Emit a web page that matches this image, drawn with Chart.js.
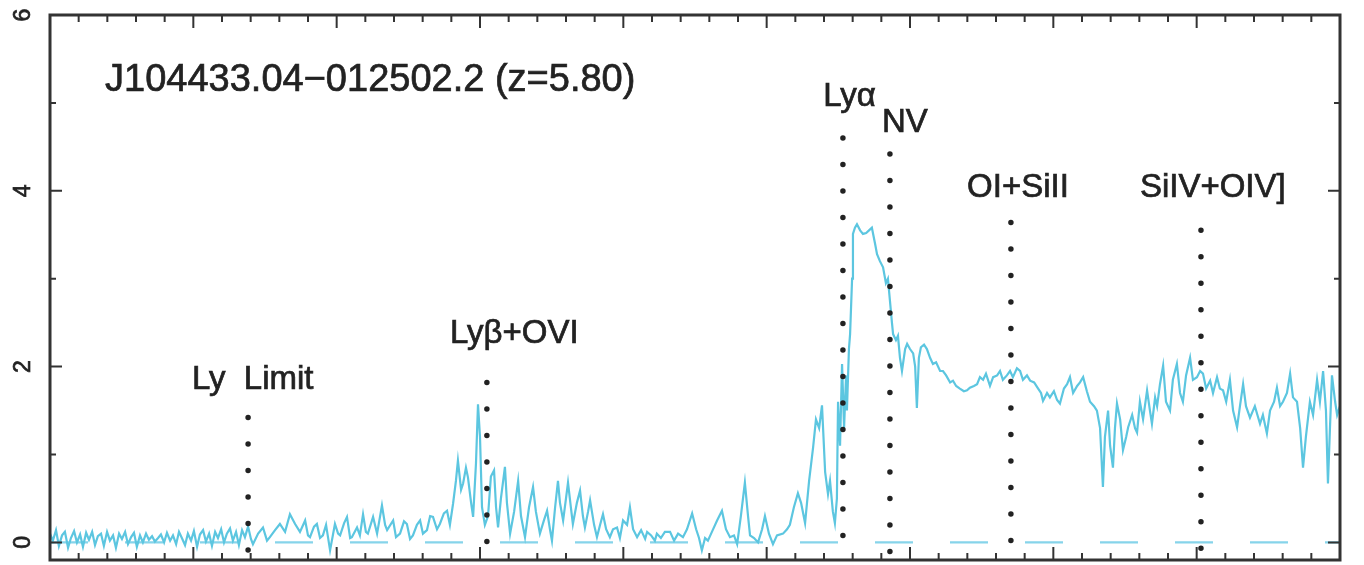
<!DOCTYPE html>
<html>
<head>
<meta charset="utf-8">
<script src="https://cdn.jsdelivr.net/npm/chart.js@4.4.1/dist/chart.umd.min.js"></script>
<style>
    html, body { margin: 0; padding: 0; background: #fff; }
    #wrap { width: 1364px; height: 565px; position: relative; }
</style>
</head>
<body>
<div id="wrap"><canvas id="spectrumChart"></canvas></div>
<script>
// Spectrum of J104433.04-012502.2, observed wavelength (A) vs flux, read off the plot
// blue side: below the Lyman limit and the Ly-beta region
const waveBlue = [
    5500,5510,5521,5531,5542,5552,5563,5573,5584,5594,
    5605,5615,5626,5636,5647,5657,5667,5678,5688,5699,
    5709,5720,5730,5741,5751,5762,5772,5783,5793,5803,
    5814,5824,5835,5845,5856,5866,5877,5887,5898,5908,
    5919,5929,5940,5950,5960,5971,5981,5992,6002,6013,
    6023,6034,6044,6055,6065,6076,6086,6097,6107,6117,
    6128,6138,6149,6159,6170,6180,6191,
    6201,6208,6226,6243,6257,6267,6285,6302,6320,6337,
    6355,6372,6390,6400,6407,6421,6431,6442,6452,6463,
    6477,6494,6505,6512,6526,6536,6547,6553,6571,6581,
    6592,6602,6609,6627,6641,6658,6669,6676,6697,6707,
    6721,6735,6745,6756,6766,6780,6791,6801,6815,6826,
    6836,6850,6860,6874,6885,6895,6906,6916,6923,6934,
    6941,6951,6958,6969,6976,6986,6993,7000,7007,7017
];
const fluxBlue = [
    0.10,0.02,0.14,-0.04,0.08,0.12,-0.06,0.05,0.13,0.00,
    0.09,-0.05,0.11,0.03,0.12,-0.03,0.07,0.10,-0.04,0.12,
    0.02,0.08,-0.06,0.10,0.04,0.12,-0.02,0.06,0.11,-0.05,
    0.08,0.00,0.10,0.03,0.07,0.01,0.05,0.09,0.00,0.11,
    0.02,0.08,-0.02,0.12,0.05,-0.03,0.10,0.02,0.13,-0.05,
    0.09,0.14,0.01,0.10,-0.04,0.12,0.05,0.15,0.00,0.10,
    0.16,0.02,0.12,-0.03,0.14,0.06,0.18,
    0.04,-0.02,0.10,0.17,0.02,0.06,0.14,0.21,0.12,0.32,
    0.21,0.12,0.25,0.08,0.06,0.18,0.21,0.05,0.08,0.20,
    -0.09,0.21,0.10,0.08,0.22,0.29,0.05,0.06,0.17,0.08,
    0.32,0.12,0.10,0.29,0.10,0.42,0.20,0.14,0.25,0.06,
    0.10,0.24,0.21,0.04,0.08,0.20,0.25,0.10,0.14,0.30,
    0.29,0.15,0.21,0.33,0.36,0.20,0.44,0.70,0.93,0.60,
    0.67,0.85,0.74,0.45,0.29,0.90,1.57,1.20,0.40,0.20
];

// Ly-alpha forest
const waveForest = [
    7028,7038,7049,7056,7063,7073,7087,7094,7105,7119,
    7133,7143,7157,7171,7185,7195,7209,7223,7234,7244,
    7251,7262,7272,7279,7290,7300,7307,7317,7324,7338,
    7349,7359,7366,7377,7384,7398,7408,7419,7429,7440,
    7453,7464,7478,7488,7499,7513,7523,7534,7548,7562,
    7576,7583,7597,7610,7617,7631,7645,7663,7677,7691,
    7708,7722,7740,7754,7764,7774,7785,7795,7809,7827,
    7844,7858,7872,7886,7897,7910,7924,7935,7942,7956,
    7970,7984,7994,8008,8022,8036,8057,8071,8081,8095,
    8109,8120,8134,8148,8162,8172,8183,8193,8204,8214,
    8221,8231,8238
];
const fluxForest = [
    0.30,0.75,0.82,0.40,0.17,0.50,0.86,0.45,0.10,0.35,
    0.70,0.30,0.06,0.40,0.63,0.35,0.10,0.25,0.36,0.15,
    0.02,0.40,0.70,0.45,0.25,0.50,0.68,0.40,0.21,0.45,
    0.59,0.30,0.17,0.35,0.48,0.20,0.06,0.20,0.32,0.15,
    0.06,0.15,0.17,0.05,0.25,0.20,0.40,0.15,0.06,0.14,
    0.04,0.12,0.08,0.02,0.10,0.05,0.12,0.12,0.02,0.10,
    0.06,0.15,0.33,0.15,0.05,-0.09,0.05,0.02,0.12,0.25,
    0.36,0.15,0.06,0.08,-0.02,0.30,0.68,0.30,0.08,0.05,
    0.00,0.15,0.30,0.10,-0.02,0.08,0.10,0.15,0.20,0.40,
    0.56,0.45,0.22,0.70,1.08,1.40,1.30,1.56,0.80,0.55,
    0.70,0.35,0.22
];

// Ly-alpha emission and the red continuum
const waveRed = [
    8245,8249,8256,8263,8270,8277,8280,8287,8291,8298,
    8301,8308,8315,8326,8336,8347,8357,8367,8378,8385,
    8395,8406,8416,8423,8430,8437,8441,8451,8458,8465,
    8472,8483,8490,8500,8511,8518,8524,8531,8538,8549,
    8559,8570,8580,8591,8605,8615,8626,8640,8650,8661,
    8674,8688,8699,8709,8723,8734,8744,8755,8765,8779,
    8790,8804,8814,8824,8838,8849,8859,8873,8884,8894,
    8908,8919,8933,8947,8957,8964,8978,8988,9002,9013,
    9023,9037,9048,9058,9069,9083,9093,9104,9117,9128,
    9142,9152,9163,9173,9180,9191,9198,9208,9215,9222,
    9233,9243,9254,9261,9275,9285,9292,9302,9313,9327,
    9337,9344,9355,9362,9372,9383,9393,9407,9417,9431,
    9442,9452,9463,9477,9487,9501,9512,9522,9533,9547,
    9557,9571,9581,9592,9603,9616,9627,9641,9651,9662,
    9672,9686,9703,9721,9731,9745,9756,9770,9780,9791,
    9801,9815,9826,9836,9850,9861,9871,9881,9895,9906,
    9920,9930,9941,9951,9958,9965,9972,9983,9990,10000
];
const fluxRed = [
    0.50,1.60,1.10,2.03,1.30,1.90,1.50,2.20,2.37,3.00,
    3.51,3.58,3.62,3.55,3.51,3.52,3.55,3.58,3.40,3.28,
    3.20,3.13,2.95,3.00,2.75,2.50,2.37,2.30,2.35,2.10,
    1.95,2.20,2.26,2.20,2.15,2.00,1.53,2.10,2.22,2.25,
    2.20,2.10,2.03,2.05,1.95,1.95,1.90,1.82,1.84,1.78,
    1.75,1.72,1.73,1.76,1.78,1.80,1.88,1.85,1.92,1.78,
    1.88,1.90,1.95,1.85,1.90,1.95,1.88,1.98,1.95,1.85,
    1.90,1.84,1.82,1.75,1.70,1.61,1.70,1.65,1.72,1.62,
    1.58,1.75,1.80,1.88,1.70,1.78,1.82,1.88,1.72,1.60,
    1.55,1.50,1.30,0.63,1.20,1.50,1.10,0.85,1.30,1.58,
    1.40,1.05,1.20,1.31,1.45,1.30,1.25,1.60,1.40,1.73,
    1.50,1.35,1.65,1.55,1.80,2.01,1.60,1.50,1.85,2.03,
    1.70,1.60,1.90,2.10,1.85,1.88,1.95,1.92,1.75,1.84,
    1.70,1.88,1.75,1.73,1.60,1.85,1.50,1.31,1.55,1.80,
    1.55,1.42,1.55,1.35,1.45,1.24,1.50,1.60,1.76,1.55,
    1.60,1.70,1.92,1.65,1.60,1.30,0.85,1.20,1.60,1.45,
    1.85,1.60,1.95,1.50,0.67,1.30,1.90,1.60,1.45,1.55
];

// emission line markers
const lineNames = ['Ly  Limit', 'Lyβ+OVI', 'Lyα', 'NV', 'OI+SiII', 'SiIV+OIV]'];
const lineWaves = [6191, 7024, 8266, 8430, 8852, 9515];
const lineTops = [1.42, 1.82, 4.6, 4.42, 3.64, 3.55];

const yTickLabels = ['0', '2', '4', '6'];
const objectTitle = 'J104433.04−012502.2 (z=5.80)';

const waves = waveBlue.concat(waveForest, waveRed);
const fluxes = fluxBlue.concat(fluxForest, fluxRed);
const spectrumPoints = waves.map((w, i) => ({ x: w, y: fluxes[i] }));

const datasets = [{
    data: spectrumPoints,
    borderColor: '#5cc6e0',
    borderWidth: 2.2,
    pointRadius: 0,
    tension: 0,
    order: 1
}, {
    // zero level
    data: [{ x: 5500, y: 0 }, { x: 10000, y: 0 }],
    borderColor: '#86d4ea',
    borderWidth: 2.2,
    borderDash: [38, 37],
    pointRadius: 0,
    order: 2
}];
lineWaves.forEach(function(w, i) {
    datasets.push({
        data: [{ x: w, y: lineTops[i] }, { x: w, y: -0.15 }],
        borderColor: '#222',
        borderWidth: 5.5,
        borderDash: [0, 26.5],
        borderCapStyle: 'round',
        pointRadius: 0,
        order: 0
    });
});

// frame, inward ticks and the text labels
const framePlugin = {
    id: 'frame',
    afterDatasetsDraw(chart) {
        const ctx = chart.ctx;
        const area = chart.chartArea;
        const xs = chart.scales.x;
        const ys = chart.scales.y;
        ctx.save();
        ctx.strokeStyle = '#333';
        ctx.lineWidth = 2;
        for (let w = 5600; w < 10000; w += 100) {
            const px = xs.getPixelForValue(w);
            const len = w % 500 === 0 ? 13 : 7;
            ctx.beginPath();
            ctx.moveTo(px, area.bottom); ctx.lineTo(px, area.bottom - len);
            ctx.moveTo(px, area.top); ctx.lineTo(px, area.top + len);
            ctx.stroke();
        }
        for (let v = 0; v <= 6; v++) {
            const py = ys.getPixelForValue(v);
            const len = v % 2 === 0 ? 12 : 6;
            ctx.beginPath();
            ctx.moveTo(area.left, py); ctx.lineTo(area.left + len, py);
            ctx.moveTo(area.right, py); ctx.lineTo(area.right - len, py);
            ctx.stroke();
        }
        ctx.lineWidth = 3;
        ctx.strokeRect(area.left, area.top, area.right - area.left, area.bottom - area.top);

        ctx.fillStyle = '#222';
        ctx.strokeStyle = '#222';
        ctx.lineWidth = 0.7;
        // rotated y tick labels
        ctx.font = '23px "Liberation Sans", Arial, sans-serif';
        ctx.textAlign = 'center';
        ctx.textBaseline = 'middle';
        yTickLabels.forEach(function(label) {
            const py = ys.getPixelForValue(Number(label));
            ctx.save();
            ctx.translate(24, py);
            ctx.rotate(-Math.PI / 2);
            ctx.fillText(label, 0, 0);
            ctx.strokeText(label, 0, 0);
            ctx.restore();
        });

        ctx.textAlign = 'left';
        ctx.textBaseline = 'alphabetic';
        ctx.font = '38px "Liberation Sans", Arial, sans-serif';
        const tx = xs.getPixelForValue(5692), ty = ys.getPixelForValue(5.14);
        ctx.fillText(objectTitle, tx, ty);
        ctx.strokeText(objectTitle, tx, ty);

        const labelSpots = [[5995, 1.75], [6895, 2.27], [8197, 4.97], [8402, 4.67], [8699, 3.93], [9302, 3.93]];
        ctx.font = '33px "Liberation Sans", Arial, sans-serif';
        lineNames.forEach(function(name, i) {
            const lx = xs.getPixelForValue(labelSpots[i][0]);
            const ly = ys.getPixelForValue(labelSpots[i][1]);
            ctx.fillText(name, lx, ly);
            ctx.strokeText(name, lx, ly);
        });
        ctx.restore();
    }
};

new Chart(document.getElementById('spectrumChart').getContext('2d'), {
    type: 'line',
    data: { datasets: datasets },
    options: {
        responsive: true,
        maintainAspectRatio: false,
        animation: false,
        layout: { padding: { left: 50, top: 15, right: 24, bottom: 5 } },
        plugins: { legend: { display: false }, tooltip: { enabled: false } },
        scales: {
            x: { type: 'linear', min: 5500, max: 10000, display: false },
            y: { min: -0.2, max: 6, display: false }
        }
    },
    plugins: [framePlugin]
});
</script>
</body>
</html>
